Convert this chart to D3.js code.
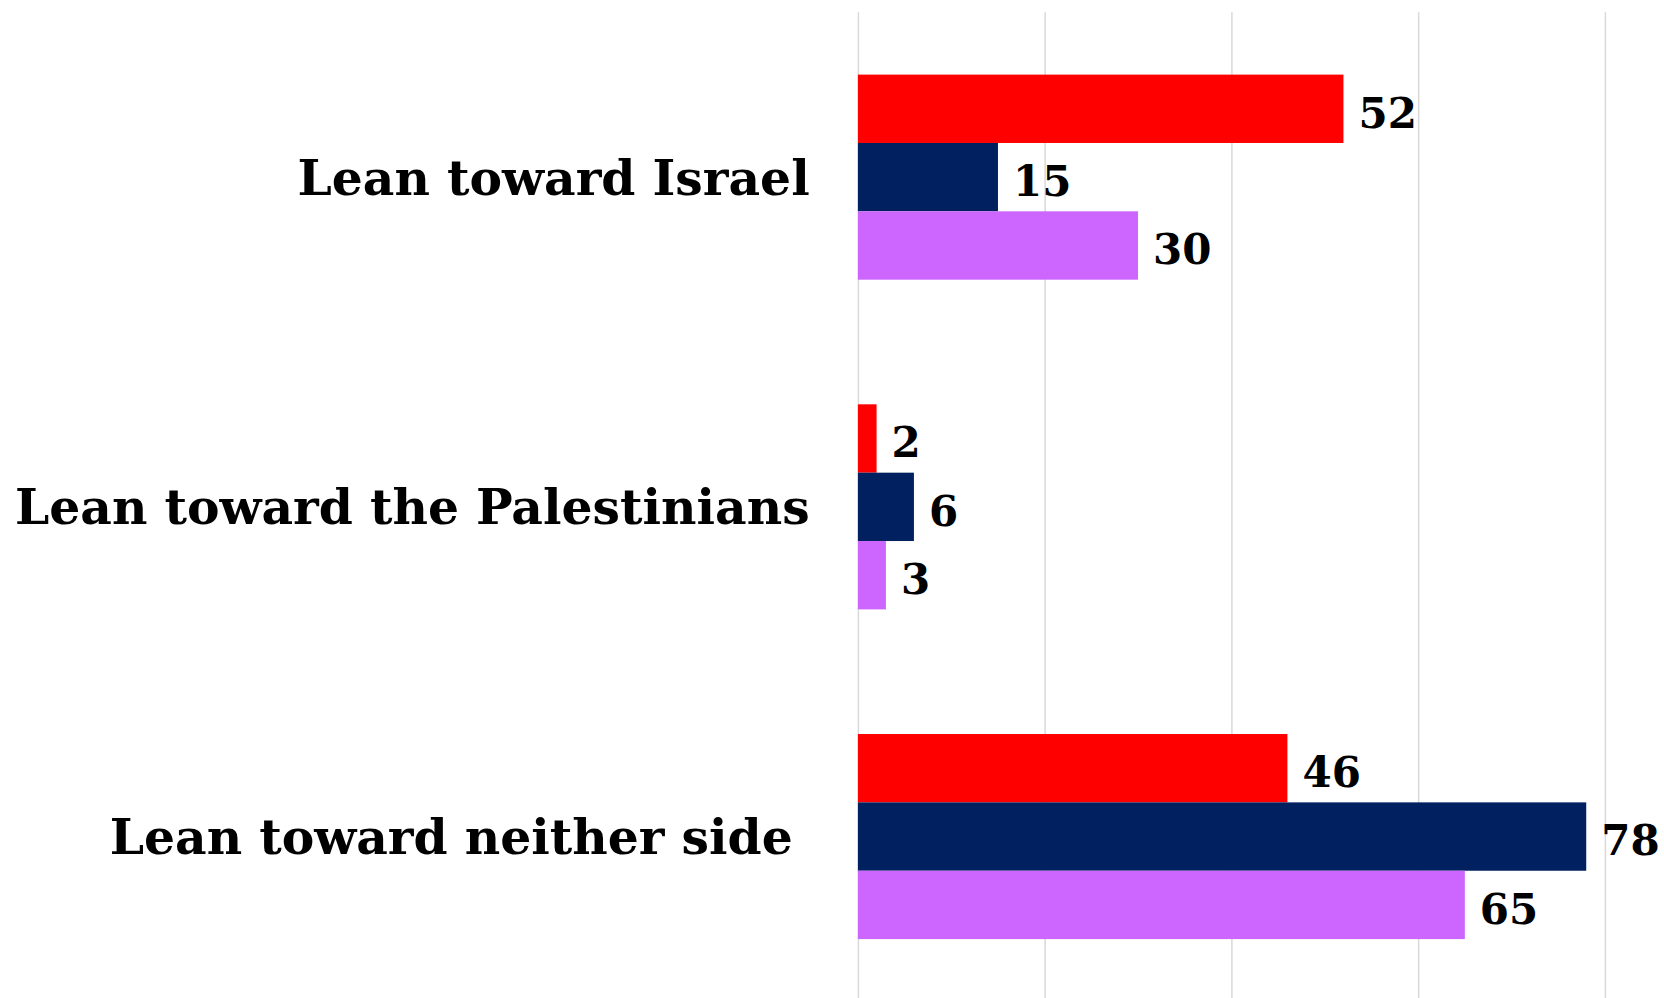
<!DOCTYPE html>
<html>
<head>
<meta charset="utf-8">
<script src="https://cdn.jsdelivr.net/npm/d3@7"></script>
<style>
  html, body { margin: 0; padding: 0; background: #ffffff; }
  svg { display: block; }
</style>
</head>
<body>
<svg id="chart" width="1664" height="998"></svg>
<script>
// ---- data ----
const categories = ["Lean toward Israel", "Lean toward the Palestinians", "Lean toward neither side "];
const seriesNames = ["Series A", "Series B", "Series C"];
const seriesA = [52, 2, 46];
const seriesB = [15, 6, 78];
const seriesC = [30, 3, 65];
const tickValues = [0, 20, 40, 60, 80];

const seriesValues = [seriesA, seriesB, seriesC];
const colors = ["#FF0000", "#002060", "#CC66FF"];

const svg = d3.select("#chart");
const plot = { left: 857.9, right: 1604.9, top: 12.3, bottom: 1001.4 };

const x = d3.scaleLinear().domain([0, 80]).range([plot.left, plot.right]);
const y = d3.scaleBand().domain(categories).range([plot.top, plot.bottom])
  .paddingInner(0.378).paddingOuter(0.189);
const ySub = d3.scaleBand().domain(d3.range(seriesNames.length)).range([0, y.bandwidth()]).padding(0);

const fontFamily = "'DejaVu Serif', 'Liberation Serif', serif";

// gridlines via axis
const gridAxis = d3.axisTop(x).tickValues(tickValues).tickSize(-(plot.bottom - plot.top)).tickFormat("");
const g = svg.append("g").attr("transform", `translate(0,${plot.top})`).call(gridAxis);
g.select(".domain").remove();
g.selectAll(".tick line").attr("stroke", "#D9D9D9").attr("stroke-width", 1.5);

// bars
const rows = categories.map((c, i) => ({ cat: c, vals: seriesValues.map(s => s[i]) }));
const groups = svg.append("g").selectAll("g").data(rows).join("g")
  .attr("transform", d => `translate(0,${y(d.cat)})`);

groups.selectAll("rect").data(d => d.vals.map((v, k) => ({ v, k }))).join("rect")
  .attr("x", x(0))
  .attr("y", d => ySub(d.k))
  .attr("width", d => x(d.v) - x(0))
  .attr("height", ySub.bandwidth())
  .attr("fill", d => colors[d.k]);

groups.selectAll("text.val").data(d => d.vals.map((v, k) => ({ v, k }))).join("text")
  .attr("class", "val")
  .attr("x", d => x(d.v) + 15)
  .attr("y", d => ySub(d.k) + ySub.bandwidth() / 2)
  .attr("dy", "0.45em")
  .attr("font-family", fontFamily)
  .attr("font-weight", "bold")
  .attr("font-size", 42)
  .attr("fill", "#000")
  .text(d => d.v);

// category labels
const labels = svg.append("g").selectAll("text").data(categories).join("text")
  .attr("x", 809.7)
  .attr("y", d => y(d) + y.bandwidth() / 2)
  .attr("text-anchor", "end")
  .attr("font-family", fontFamily)
  .attr("font-weight", "bold")
  .attr("font-size", 50)
  .style("white-space", "pre")
  .attr("fill", "#000")
  .text(d => d);

// fit font size so the longest label spans ~795px
const longest = labels.filter(d => d === categories[1]).node();
const w = longest.getComputedTextLength();
const fs = 50 * 795 / w;
labels.attr("font-size", fs).attr("dy", "0.36em");
</script>
</body>
</html>
